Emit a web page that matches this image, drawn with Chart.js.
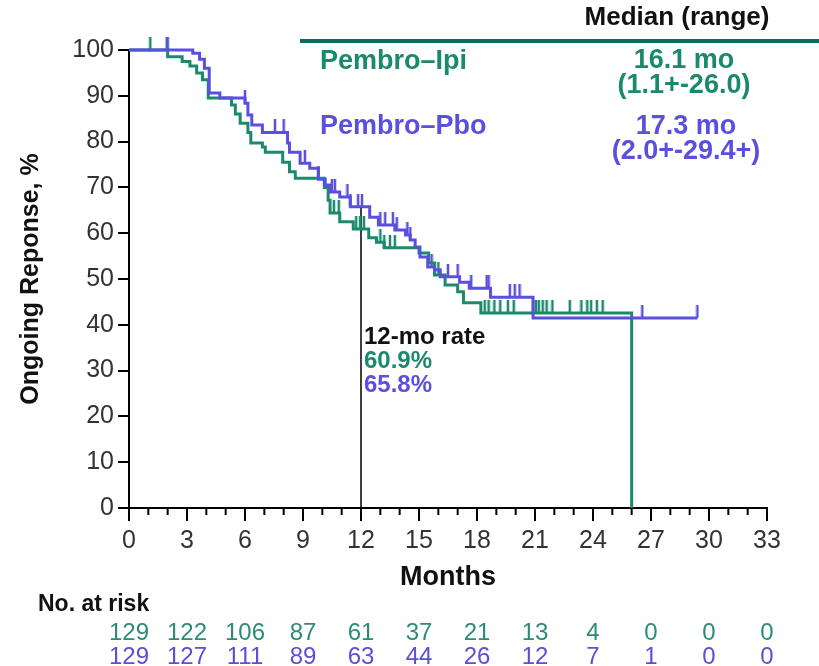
<!DOCTYPE html>
<html>
<head>
<meta charset="utf-8">
<script src="https://cdn.jsdelivr.net/npm/chart.js@4.4.1/dist/chart.umd.min.js"></script>
<style>
  html, body { margin: 0; padding: 0; background: #fff; }
  #wrap { width: 819px; height: 666px; }
</style>
</head>
<body>
<div id="wrap"><canvas id="kmChart" width="819" height="666"></canvas></div>
<script>
// Kaplan-Meier duration of response, two arms

const SANS = 'Arial, "Liberation Sans", sans-serif';
const NARROW = '"Liberation Sans Narrow", "Arial Narrow", Arial, sans-serif';

const ipiColor = '#1b8a6c';
const pboColor = '#5b4fe0';

// Pembro-Ipi: event times (months) and survival after each step (%)
const ipiTimes = [0, 2.0, 2.75, 3.15, 3.5, 3.8, 4.1, 5.3, 5.5, 5.75, 6.15, 6.3, 6.9, 7.05, 7.95, 8.3, 8.6,
  10.1, 10.3, 10.4, 10.9, 11.6, 12.4, 12.8, 13.2, 15.0, 15.5, 15.8, 16.35, 17.0, 17.3, 18.2, 26.0];
const ipiSurv = [100, 98.5, 97.5, 96.5, 95, 93.5, 89.5, 88, 86, 84, 82, 79.7, 78.8, 77.7, 75.5, 73.4, 72,
  70, 67.2, 64.4, 62.5, 60.9, 59, 58, 56.8, 55.7, 53.5, 50.9, 48.7, 47.2, 44.8, 42.6, 0];
const ipiCensor = [1.1, 1.95, 10.6, 10.85, 11.75, 11.95, 12.15, 13.0, 13.2, 13.5, 13.75, 16.0,
  18.4, 18.6, 18.9, 19.2, 19.6, 19.9, 20.9, 21.05, 21.2, 21.4, 21.6, 21.9, 22.8, 23.4, 23.7, 23.9, 24.2, 24.5];

// Pembro-Pbo
const pboTimes = [0, 3.3, 3.65, 3.9, 4.15, 4.7, 6.0, 6.15, 6.35, 6.9, 8.2, 8.3, 8.85, 9.35, 9.8, 10.15,
  10.4, 10.9, 11.45, 12.45, 12.9, 13.75, 14.3, 14.55, 14.8, 15.05, 15.45, 15.8, 16.1, 17.1, 17.6, 18.7, 20.9, 29.4];
const pboSurv = [100, 99.3, 98, 96, 90.6, 89.5, 88.4, 85.8, 83.6, 82, 79.7, 77.7, 75.3, 74.2, 71.8, 70.5,
  69, 67.9, 65.8, 63.5, 61.8, 60.7, 59.6, 58.5, 57, 54.8, 52.6, 52, 50.5, 49.3, 48, 46, 41.5, 41.5];
const pboCensor = [2.0, 6.0, 7.55, 8.0, 9.1, 9.8, 10.5, 10.65, 11.3, 11.45, 11.85, 12.05, 13.0, 13.25,
  13.65, 13.85, 14.4, 14.55, 15.65, 16.5, 17.0, 17.7, 18.5, 18.6, 19.7, 19.95, 20.2, 26.55, 29.4];

// 12-month landmark
const landmarkMonth = 12;
const ipiRate12 = 60.9;
const pboRate12 = 65.8;

// Number at risk
const riskMonths = [0, 3, 6, 9, 12, 15, 18, 21, 24, 27, 30, 33];
const ipiRisk = [129, 122, 106, 87, 61, 37, 21, 13, 4, 0, 0, 0];
const pboRisk = [129, 127, 111, 89, 63, 44, 26, 12, 7, 1, 0, 0];

function stepPoints(times, surv) {
  return times.map((t, i) => ({ x: t, y: surv[i] }));
}

// survival value at time t on a step curve
function survAt(times, surv, t) {
  let s = surv[0];
  for (let i = 0; i < times.length; i++) {
    if (times[i] <= t) s = surv[i];
  }
  return s;
}

function censorPoints(times, surv, censor) {
  return censor.map(c => ({ x: c, y: survAt(times, surv, c) }));
}

// upward tick mark used for censored observations
function censorMark(color) {
  const c = document.createElement('canvas');
  c.width = 4;
  c.height = 26;
  const g = c.getContext('2d');
  g.strokeStyle = color;
  g.lineWidth = 2.5;
  g.beginPath();
  g.moveTo(2, 0);
  g.lineTo(2, 13);
  g.stroke();
  return c;
}

const extrasPlugin = {
  id: 'extras',
  afterDraw(chart) {
    const ctx = chart.ctx;
    const xs = chart.scales.x;
    const ys = chart.scales.y;
    ctx.save();

    // minor month ticks
    ctx.strokeStyle = '#000';
    ctx.lineWidth = 2;
    for (let m = 0; m <= 33; m++) {
      if (m % 3 === 0) continue;
      const px = xs.getPixelForValue(m);
      ctx.beginPath();
      ctx.moveTo(px, ys.bottom);
      ctx.lineTo(px, ys.bottom + 7);
      ctx.stroke();
    }

    // median header
    ctx.textBaseline = 'middle';
    ctx.fillStyle = '#111';
    ctx.font = 'bold 26px ' + SANS;
    ctx.textAlign = 'center';
    ctx.fillText('Median (range)', 677, 18);

    ctx.strokeStyle = '#0c6b5a';
    ctx.lineWidth = 4;
    ctx.beginPath();
    ctx.moveTo(300, 41);
    ctx.lineTo(819, 41);
    ctx.stroke();

    ctx.font = 'bold 27px ' + SANS;
    ctx.textAlign = 'left';
    ctx.fillStyle = ipiColor;
    ctx.fillText('Pembro\u2013Ipi', 320, 62);
    ctx.fillStyle = pboColor;
    ctx.fillText('Pembro\u2013Pbo', 320, 127);

    ctx.textAlign = 'center';
    ctx.fillStyle = ipiColor;
    ctx.fillText('16.1 mo', 684, 61);
    ctx.fillText('(1.1+-26.0)', 684, 86);
    ctx.fillStyle = pboColor;
    ctx.fillText('17.3 mo', 686, 127);
    ctx.fillText('(2.0+-29.4+)', 686, 152);

    // 12-month rates
    const lx = xs.getPixelForValue(landmarkMonth) + 3;
    ctx.textAlign = 'left';
    ctx.font = 'bold 24px ' + SANS;
    ctx.fillStyle = '#111';
    ctx.fillText('12-mo rate', lx, 337);
    ctx.fillStyle = ipiColor;
    ctx.fillText(ipiRate12.toFixed(1) + '%', lx, 361);
    ctx.fillStyle = pboColor;
    ctx.fillText(pboRate12.toFixed(1) + '%', lx, 385);

    // number at risk table
    ctx.fillStyle = '#111';
    ctx.font = 'bold 23px ' + NARROW;
    ctx.fillText('No. at risk', 38, 605);
    ctx.textAlign = 'center';
    ctx.font = '24px ' + NARROW;
    riskMonths.forEach((m, i) => {
      const px = xs.getPixelForValue(m);
      ctx.fillStyle = '#2e8b74';
      ctx.fillText(String(ipiRisk[i]), px, 633);
      ctx.fillStyle = '#5a4fd6';
      ctx.fillText(String(pboRisk[i]), px, 657);
    });

    ctx.restore();
  }
};

const ctx = document.getElementById('kmChart').getContext('2d');

new Chart(ctx, {
  type: 'line',
  data: {
    datasets: [
      {
        label: 'Pembro-Pbo',
        data: stepPoints(pboTimes, pboSurv),
        borderColor: pboColor,
        borderWidth: 3,
        stepped: true,
        pointRadius: 0,
        fill: false,
        clip: false
      },
      {
        label: 'Pembro-Ipi',
        data: stepPoints(ipiTimes, ipiSurv),
        borderColor: ipiColor,
        borderWidth: 3,
        stepped: true,
        pointRadius: 0,
        fill: false,
        clip: false
      },
      {
        type: 'scatter',
        label: 'Pbo censored',
        data: censorPoints(pboTimes, pboSurv, pboCensor),
        pointStyle: censorMark(pboColor),
        clip: false
      },
      {
        type: 'scatter',
        label: 'Ipi censored',
        data: censorPoints(ipiTimes, ipiSurv, ipiCensor),
        pointStyle: censorMark(ipiColor),
        clip: false
      },
      {
        label: '12-mo',
        data: [{ x: landmarkMonth, y: 0 }, { x: landmarkMonth, y: pboRate12 }],
        borderColor: '#000',
        borderWidth: 1.5,
        pointRadius: 0,
        fill: false
      }
    ]
  },
  options: {
    responsive: false,
    animation: false,
    layout: {
      padding: { top: 50, right: 52, left: 0, bottom: 0 }
    },
    scales: {
      x: {
        type: 'linear',
        min: 0,
        max: 33,
        afterFit: (scale) => { scale.height = 158; },
        ticks: {
          stepSize: 3,
          color: '#333',
          padding: 5,
          font: { family: SANS, size: 25 }
        },
        grid: {
          drawOnChartArea: false,
          tickLength: 13,
          color: '#000',
          lineWidth: 2
        },
        border: { color: '#000', width: 2 },
        title: {
          display: true,
          text: 'Months',
          color: '#111',
          font: { family: SANS, size: 27, weight: 'bold' },
          padding: { bottom: 72 }
        }
      },
      y: {
        min: 0,
        max: 100,
        afterFit: (scale) => { scale.width = 129; },
        ticks: {
          stepSize: 10,
          color: '#333',
          padding: 4,
          font: { family: SANS, size: 25 }
        },
        grid: {
          drawOnChartArea: false,
          tickLength: 11,
          color: '#000',
          lineWidth: 2
        },
        border: { color: '#000', width: 2 },
        title: {
          display: true,
          text: 'Ongoing Reponse, %',
          color: '#111',
          font: { family: SANS, size: 25, weight: 'bold' },
          padding: { top: 16 }
        }
      }
    },
    plugins: {
      legend: { display: false },
      tooltip: { enabled: false }
    }
  },
  plugins: [extrasPlugin]
});
</script>
</body>
</html>
